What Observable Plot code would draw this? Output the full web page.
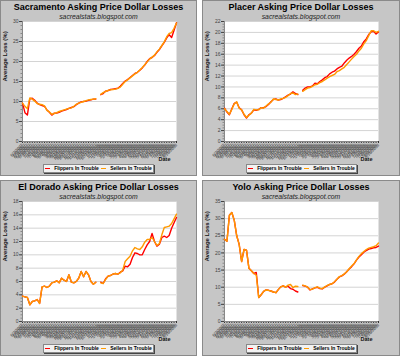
<!DOCTYPE html>
<html><head><meta charset="utf-8">
<script src="https://cdn.jsdelivr.net/npm/d3@7"></script>
<script src="https://cdn.jsdelivr.net/npm/@observablehq/plot@0.6"></script>
<style>
body{margin:0;background:#fff;}
#wrap{position:relative;width:400px;height:356px;overflow:hidden;background:#fff;font-family:"Liberation Sans",Arial,sans-serif;}
.panel{position:absolute;box-sizing:border-box;border:1px solid #8a8a8a;background:#c6c6c6;}
.title{position:absolute;left:0;right:0;top:1px;text-align:center;font-weight:bold;font-size:9px;line-height:10px;color:#000;white-space:nowrap;}
.sub{position:absolute;left:0;right:0;top:12px;text-align:center;font-style:italic;font-size:6.8px;line-height:8px;color:#222;white-space:nowrap;}
.panel svg{position:absolute;left:0;top:0;}
.legend{position:absolute;top:163px;width:111px;height:9px;box-sizing:border-box;background:#f2f2f2;border:1px solid #888;box-shadow:1px 1px 0 #444;font-size:5px;font-weight:bold;line-height:7px;display:flex;align-items:center;justify-content:space-around;color:#000;white-space:nowrap;}
.legend .sw{display:inline-block;width:5px;height:1.5px;margin-right:4px;vertical-align:middle;}
</style>
</head><body>
<div id="wrap"></div>
<script>
const dates = ["6/2/2007","6/9/2007","6/16/2007","6/23/2007","6/30/2007","7/7/2007","7/14/2007","7/21/2007","7/28/2007","8/4/2007",
"8/11/2007","8/18/2007","8/25/2007","9/1/2007","9/8/2007","9/15/2007","9/22/2007","9/29/2007","10/6/2007","10/13/2007",
"10/20/2007","10/27/2007","11/3/2007","11/10/2007","11/17/2007","11/24/2007","12/1/2007","12/8/2007","12/15/2007","12/22/2007",
"12/29/2007","1/5/2008","1/12/2008","1/19/2008","1/26/2008","2/2/2008","2/9/2008","2/16/2008","2/23/2008","3/1/2008",
"3/8/2008","3/15/2008","3/22/2008","3/29/2008","4/5/2008","4/12/2008","4/19/2008","4/26/2008","5/3/2008","5/10/2008",
"5/17/2008","5/24/2008","5/31/2008","6/7/2008","6/14/2008","6/21/2008","6/28/2008","7/5/2008","7/12/2008","7/19/2008",
"7/26/2008","8/2/2008","8/9/2008","8/16/2008"];

const seriesNames = ["Flippers In Trouble", "Sellers In Trouble"];
const seriesColors = ["#ff0000", "#ff9900"];

const sacFlippers = [9.6,7.2,6.6,10.7,10.8,10.3,9.6,9.2,9.0,8.8, 7.9,7.3,6.6,7.1,7.1,7.3,7.6,7.8,8.0,8.3,
 8.5,8.7,9.2,9.6,9.9,10.0,10.1,10.3,10.4,10.6, 10.6,null, 11.7,12.0,12.6,12.7,13.0,13.1,13.2,13.3,13.8,14.5,
 15.1,15.5,16.0,16.5,17.0,17.3,17.8,18.4,19.1,20.0, 20.7,21.0,21.5,22.3,23.0,23.9,24.8,25.9,26.7,26.0, 27.8,29.7];
const sacSellers = [9.6,8.8,8.2,10.9,10.6,10.1,9.5,9.3,9.2,8.9, 7.8,7.4,6.8,7.0,7.2,7.5,7.7,7.9,8.1,8.3,
 8.4,8.8,9.3,9.6,9.8,10.0,10.2,10.4,10.5,10.6, 10.7,null, 11.8,12.2,12.5,12.8,12.9,13.0,13.1,13.3,13.6,14.3,
 15.0,15.4,15.9,16.4,16.9,17.3,17.9,18.5,19.2,19.9, 20.6,21.1,21.6,22.4,23.1,24.0,24.9,26.2,27.0,27.2, 28.3,29.6];

const placerFlippers = [6.1,5.4,4.9,6.0,7.0,7.2,6.2,5.8,4.9,4.3, 4.9,5.2,5.8,5.7,5.9,6.2,6.2,6.4,6.8,7.3,
 7.7,7.8,7.6,7.7,7.9,8.2,8.5,8.7,9.1,8.8, 8.6,null, 9.4,9.8,10.0,10.0,10.2,10.7,10.6,11.0,11.3,11.7,
 11.9,12.4,12.7,12.9,13.3,13.6,13.8,14.4,14.9,15.3, 15.6,16.0,16.5,17.1,17.5,18.3,18.8,19.6,20.1,20.2, 19.7,20.1];
const placerSellers = [6.0,5.5,5.0,5.9,6.9,7.3,6.1,5.8,5.0,4.4, 4.8,5.2,5.9,5.8,5.8,6.2,6.1,6.5,6.9,7.2,
 7.8,7.7,7.6,7.8,7.9,8.1,8.4,8.8,8.9,8.6, 8.7,null, 9.2,9.5,9.8,9.9,10.1,10.4,10.5,10.8,11.0,11.3,
 11.6,11.9,12.1,12.3,12.8,13.0,13.3,13.6,14.1,14.6, 15.1,15.6,16.0,16.6,17.1,17.9,18.5,19.4,20.3,20.3, 20.0,20.2];

const elDoradoFlippers = [3.8,3.7,3.6,2.5,3.0,3.1,3.3,2.7,5.2,5.3, 5.1,5.3,5.8,5.9,6.1,5.8,6.5,6.2,6.0,7.0,
 5.9,5.8,6.0,6.5,7.5,6.7,7.5,7.0,6.0,5.6, 5.9,null, 5.9,5.7,6.4,6.8,6.9,7.1,7.2,7.1,7.4,7.6,
 8.3,8.2,8.6,9.6,10.3,10.2,10.0,10.0,10.8,11.5, 12.0,13.2,12.0,11.3,11.6,12.6,12.8,12.6,12.9,14.0, 14.8,15.6];
const elDoradoSellers = [3.8,3.7,3.6,2.5,3.0,3.1,3.3,2.7,5.2,5.3, 5.1,5.3,5.8,5.9,6.1,5.8,6.5,6.2,6.0,7.0,
 5.9,5.8,6.0,6.5,7.5,6.7,7.5,7.0,6.0,5.6, 5.9,null, 5.8,5.7,6.3,6.8,6.9,7.1,7.2,7.1,7.3,7.7,
 9.0,9.4,9.8,10.6,11.1,10.9,10.8,11.2,11.9,12.3, 12.3,12.6,12.0,11.4,11.7,13.0,14.1,14.2,14.3,14.7, 15.4,16.1];

const yoloFlippers = [24.0,23.4,31.0,31.8,29.5,25.0,22.5,17.5,21.0,20.8, 15.5,14.8,14.0,14.3,7.0,7.8,8.8,9.2,9.1,8.9,
 8.6,8.4,9.3,10.1,10.4,10.0,10.3,9.6,9.4,8.9, 8.6,null, 10.5,10.3,10.0,9.2,9.5,9.8,10.0,9.6,9.5,10.0,
 10.4,10.8,11.0,11.5,12.3,13.0,13.3,13.8,14.5,15.3, 16.0,16.8,17.9,18.8,19.5,20.2,20.7,21.1,21.3,21.5, 21.6,22.0];
const yoloSellers = [24.0,23.4,31.0,31.8,29.5,25.0,22.5,17.5,21.0,20.8, 15.5,14.8,14.0,13.5,7.0,7.8,8.8,9.2,9.1,8.9,
 8.6,8.4,9.3,10.1,10.4,10.0,10.6,10.8,9.9,10.3, 10.2,null, 10.6,10.4,10.0,9.3,9.4,9.9,10.1,9.7,9.6,10.1,
 10.5,10.8,11.0,11.6,12.3,13.1,13.4,13.9,14.5,15.4, 16.2,16.9,18.0,19.0,19.8,20.4,21.0,21.4,21.6,21.8, 22.1,22.9];

const sacTicks = [0,5,10,15,20,25,30];
const placerTicks = [0,2,4,6,8,10,12,14,16,18,20,22];
const elDoradoTicks = [0,2,4,6,8,10,12,14,16,18];
const yoloTicks = [0,5,10,15,20,25,30,35];

const panels = [
  {title:"Sacramento Asking Price Dollar Losses", f:sacFlippers, s:sacSellers, ticks:sacTicks, minor:1, left:0, top:0, w:197},
  {title:"Placer Asking Price Dollar Losses", f:placerFlippers, s:placerSellers, ticks:placerTicks, minor:0.5, left:202, top:0, w:198},
  {title:"El Dorado Asking Price Dollar Losses", f:elDoradoFlippers, s:elDoradoSellers, ticks:elDoradoTicks, minor:0.5, left:0, top:180, w:197},
  {title:"Yolo Asking Price Dollar Losses", f:yoloFlippers, s:yoloSellers, ticks:yoloTicks, minor:1, left:202, top:180, w:198}
];

const wrap = document.getElementById("wrap");
for (const p of panels) {
  const div = document.createElement("div");
  div.className = "panel";
  div.style.left = p.left + "px"; div.style.top = p.top + "px";
  div.style.width = p.w + "px"; div.style.height = "176px";
  const innerW = p.w - 2, innerH = 174;
  const data = dates.map((d, i) => ({date: d, flippers: p.f[i], sellers: p.s[i]}));
  const ymax = p.ticks[p.ticks.length - 1];
  const minorTicks = d3.range(0, ymax + 1e-9, p.minor);
  const chart = Plot.plot({
    width: innerW, height: innerH,
    marginTop: 20, marginBottom: 34, marginLeft: 21, marginRight: innerW - 175,
    style: {background: "transparent", fontFamily: "'Liberation Sans', Arial, sans-serif", overflow: "visible"},
    x: {type: "point", domain: dates, padding: 0, round: false},
    y: {domain: [0, ymax]},
    marks: [
      Plot.frame({fill: "white", stroke: null}),
      Plot.gridY(p.ticks, {stroke: "#d4d4d4", strokeOpacity: 1}),
      Plot.axisY(minorTicks, {tickSize: 1.5, text: null, stroke: "#888"}),
      Plot.axisY(p.ticks, {tickSize: 3, tickPadding: 1, fontSize: 5, label: null, color: "#444"}),
      Plot.axisX({tickRotate: -45, fontSize: 4.2, tickSize: 2, tickPadding: 1, label: null, color: "#333"}),
      Plot.ruleX([dates[0]], {stroke: "#888"}),
      Plot.ruleY([0], {stroke: "#888"}),
      Plot.line(data, {x: "date", y: "flippers", stroke: seriesColors[0], strokeWidth: 1.4}),
      Plot.line(data, {x: "date", y: "sellers", stroke: seriesColors[1], strokeWidth: 1.4}),
      Plot.text(["Average Loss (%)"], {frameAnchor: "left", dx: -17, rotate: -90, fontWeight: "bold", fontSize: 6, fill: "#111"}),
      Plot.text(["Date"], {frameAnchor: "bottom-right", dy: 19, dx: -6, fontWeight: "bold", fontSize: 5.5, fill: "#111"})
    ]
  });
  const t = document.createElement("div"); t.className = "title"; t.textContent = p.title;
  const s = document.createElement("div"); s.className = "sub"; s.textContent = "sacrealstats.blogspot.com";
  const lg = document.createElement("div"); lg.className = "legend";
  lg.style.left = Math.round((innerW - 111) / 2) + "px";
  lg.innerHTML = seriesNames.map((n, i) => `<span><span class="sw" style="background:${seriesColors[i]}"></span>${n}</span>`).join("");
  div.appendChild(chart);
  div.appendChild(t); div.appendChild(s); div.appendChild(lg);
  wrap.appendChild(div);
}
</script>
</body></html>
